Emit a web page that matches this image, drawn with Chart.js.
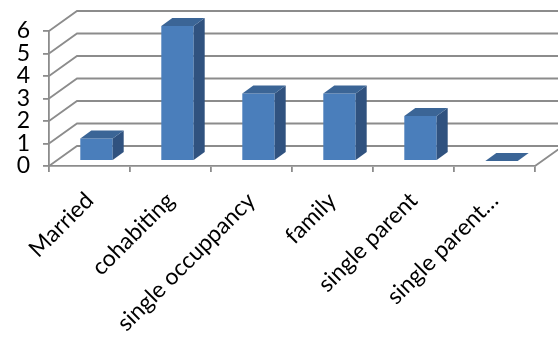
<!DOCTYPE html>
<html>
<head>
<meta charset="utf-8">
<script src="https://cdn.jsdelivr.net/npm/chart.js@4/dist/chart.umd.min.js"></script>
<style>
  html, body { margin: 0; padding: 0; background: #fff; }
  #wrap { width: 558px; height: 343px; position: relative; }
</style>
</head>
<body>
<div id="wrap"><canvas id="c" width="558" height="343"></canvas></div>
<script>
// Household types and counts
const categories = ['Married', 'cohabiting', 'single occuppancy', 'family', 'single parent', 'single parent…'];
const counts = [1, 6, 3, 3, 2, 0];
const yTicks = [0, 1, 2, 3, 4, 5, 6];

// 3D look: depth of the walls, where the bars sit in depth, and how deep they are
const WALL = { dx: 28, dy: -20 };
const BAR_SHIFT = { dx: 7, dy: -5 };
const BAR_DEPTH = { dx: 11, dy: -8 };
const LINE = '#8c8c8c';

const threeD = {
  id: 'threeD',
  beforeDatasetsDraw(chart) {
    const { ctx, chartArea: { left, right, bottom }, scales: { y } } = chart;
    ctx.save();
    ctx.strokeStyle = LINE;
    ctx.lineWidth = 1.8;
    ctx.beginPath();
    yTicks.forEach(v => {
      const py = y.getPixelForValue(v);
      ctx.moveTo(left, py);
      ctx.lineTo(left + WALL.dx, py + WALL.dy);
      ctx.lineTo(right + WALL.dx + 10, py + WALL.dy);
    });
    ctx.moveTo(right, bottom);
    ctx.lineTo(right + WALL.dx, bottom + WALL.dy);
    ctx.stroke();
    ctx.restore();
    // bars stand back from the front edge of the floor
    ctx.save();
    ctx.translate(BAR_SHIFT.dx, BAR_SHIFT.dy);
  },
  afterDatasetsDraw(chart) {
    const { ctx } = chart;
    const meta = chart.getDatasetMeta(0);
    meta.data.forEach(bar => {
      const { x, y, width, base } = bar.getProps(['x', 'y', 'width', 'base'], true);
      const l = x - width / 2, r = x + width / 2;
      // side face
      ctx.fillStyle = '#30527f';
      ctx.beginPath();
      ctx.moveTo(r, y);
      ctx.lineTo(r + BAR_DEPTH.dx, y + BAR_DEPTH.dy);
      ctx.lineTo(r + BAR_DEPTH.dx, base + BAR_DEPTH.dy);
      ctx.lineTo(r, base);
      ctx.closePath();
      ctx.fill();
      // top face
      ctx.fillStyle = '#3b6596';
      ctx.beginPath();
      ctx.moveTo(l, y);
      ctx.lineTo(r, y);
      ctx.lineTo(r + BAR_DEPTH.dx, y + BAR_DEPTH.dy);
      ctx.lineTo(l + BAR_DEPTH.dx, y + BAR_DEPTH.dy);
      ctx.closePath();
      ctx.fill();
    });
    ctx.restore();
  }
};

const FONT = 'Lato, "Open Sans", sans-serif';

new Chart(document.getElementById('c'), {
  type: 'bar',
  data: {
    labels: categories,
    datasets: [{
      data: counts,
      backgroundColor: '#4a7ebb',
      borderWidth: 0,
      barPercentage: 0.8,
      categoryPercentage: 0.5
    }]
  },
  options: {
    responsive: false,
    animation: false,
    layout: { padding: { top: 31, right: 23, left: 0, bottom: 0 } },
    plugins: { legend: { display: false }, tooltip: { enabled: false } },
    scales: {
      y: {
        min: 0, max: 6,
        afterBuildTicks(scale) { scale.ticks = yTicks.map(v => ({ value: v })); },
        afterFit(scale) { scale.width = 49; },
        border: { display: true, color: LINE, width: 1.8 },
        grid: { drawOnChartArea: false, drawTicks: true, tickLength: 6, tickColor: LINE, lineWidth: 1.8 },
        ticks: { color: '#000', font: { family: FONT, size: 23 }, padding: 13, autoSkip: false }
      },
      x: {
        afterFit(scale) { scale.height = 177; },
        border: { display: true, color: LINE, width: 1.8 },
        grid: { offset: true, drawOnChartArea: false, drawTicks: true, tickLength: 6, tickColor: LINE, lineWidth: 1.8 },
        ticks: {
          color: '#000', font: { family: FONT, size: 23 },
          minRotation: 45, maxRotation: 45, autoSkip: false, padding: 15,
          labelOffset: (c) => (c.index === categories.length - 1 ? 14 : 0)
        }
      }
    }
  },
  plugins: [threeD]
});
</script>
</body>
</html>
